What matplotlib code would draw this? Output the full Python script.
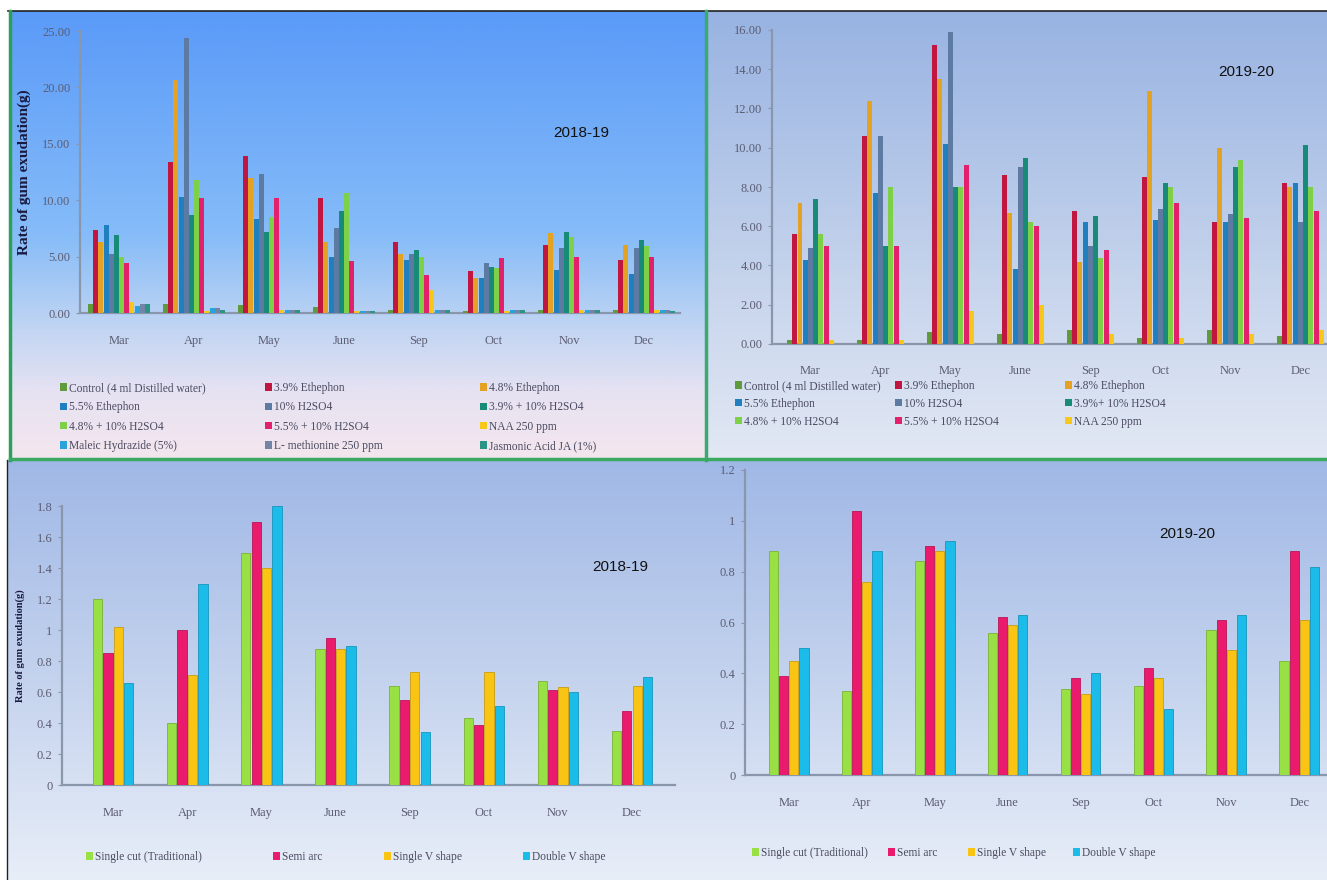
import numpy as np
import matplotlib
matplotlib.use("Agg")
import matplotlib.pyplot as plt
from matplotlib.patches import Patch
from matplotlib.lines import Line2D

W, H = 1327, 880

months = ["Mar", "Apr", "May", "June", "Sep", "Oct", "Nov", "Dec"]

# ---- Top-left panel (2018-19), 12 treatments ----
tl_labels = ["Control (4 ml Distilled water)", "3.9% Ethephon", "4.8% Ethephon",
             "5.5% Ethephon", "10% H2SO4", "3.9% + 10% H2SO4",
             "4.8% + 10% H2SO4", "5.5% + 10% H2SO4", "NAA 250 ppm",
             "Maleic Hydrazide (5%)", "L- methionine 250 ppm", "Jasmonic Acid JA (1%)"]
control_1819   = [0.8, 0.8, 0.7, 0.5, 0.3, 0.2, 0.3, 0.3]
eth39_1819     = [7.4, 13.4, 13.9, 10.2, 6.3, 3.7, 6.0, 4.7]
eth48_1819     = [6.3, 20.7, 12.0, 6.3, 5.2, 3.1, 7.1, 6.0]
eth55_1819     = [7.8, 10.3, 8.3, 5.0, 4.7, 3.1, 3.8, 3.5]
h2so4_1819     = [5.2, 24.4, 12.3, 7.5, 5.2, 4.4, 5.8, 5.8]
mix39_1819     = [6.9, 8.7, 7.2, 9.0, 5.6, 4.1, 7.2, 6.5]
mix48_1819     = [5.0, 11.8, 8.5, 10.6, 5.0, 4.0, 6.7, 5.9]
mix55_1819     = [4.4, 10.2, 10.2, 4.6, 3.4, 4.9, 5.0, 5.0]
naa_1819       = [1.0, 0.2, 0.3, 0.2, 2.0, 0.2, 0.3, 0.3]
mh_1819        = [0.6, 0.4, 0.3, 0.2, 0.3, 0.3, 0.3, 0.3]
lmet_1819      = [0.8, 0.4, 0.3, 0.2, 0.3, 0.3, 0.3, 0.3]
ja_1819        = [0.8, 0.3, 0.3, 0.2, 0.3, 0.3, 0.3, 0.2]

# ---- Top-right panel (2019-20), 9 treatments ----
tr_labels = ["Control (4 ml Distilled water)", "3.9% Ethephon", "4.8% Ethephon",
             "5.5% Ethephon", "10% H2SO4", "3.9%+ 10% H2SO4",
             "4.8% + 10% H2SO4", "5.5% + 10% H2SO4", "NAA 250 ppm"]
control_1920 = [0.2, 0.2, 0.6, 0.5, 0.7, 0.3, 0.7, 0.4]
eth39_1920   = [5.6, 10.6, 15.25, 8.6, 6.8, 8.5, 6.2, 8.2]
eth48_1920   = [7.2, 12.4, 13.5, 6.7, 4.2, 12.9, 10.0, 8.0]
eth55_1920   = [4.3, 7.7, 10.2, 3.8, 6.2, 6.3, 6.2, 8.2]
h2so4_1920   = [4.9, 10.6, 15.9, 9.0, 5.0, 6.9, 6.6, 6.2]
mix39_1920   = [7.4, 5.0, 8.0, 9.5, 6.5, 8.2, 9.0, 10.15]
mix48_1920   = [5.6, 8.0, 8.0, 6.2, 4.4, 8.0, 9.4, 8.0]
mix55_1920   = [5.0, 5.0, 9.1, 6.0, 4.8, 7.2, 6.4, 6.8]
naa_1920     = [0.2, 0.2, 1.7, 2.0, 0.5, 0.3, 0.5, 0.7]

# ---- Bottom panels: tapping methods ----
bt_labels = ["Single cut (Traditional)", "Semi arc", "Single V shape", "Double V shape"]
single_cut_1819 = [1.2, 0.4, 1.5, 0.88, 0.64, 0.43, 0.67, 0.35]
semi_arc_1819   = [0.85, 1.0, 1.7, 0.95, 0.55, 0.39, 0.61, 0.48]
single_v_1819   = [1.02, 0.71, 1.4, 0.88, 0.73, 0.73, 0.63, 0.64]
double_v_1819   = [0.66, 1.3, 1.8, 0.9, 0.34, 0.51, 0.60, 0.70]

single_cut_1920 = [0.88, 0.33, 0.84, 0.56, 0.34, 0.35, 0.57, 0.45]
semi_arc_1920   = [0.39, 1.04, 0.90, 0.62, 0.38, 0.42, 0.61, 0.88]
single_v_1920   = [0.45, 0.76, 0.88, 0.59, 0.32, 0.38, 0.49, 0.61]
double_v_1920   = [0.50, 0.88, 0.92, 0.63, 0.40, 0.26, 0.63, 0.82]

c12 = ["#5f9a3c", "#c0163f", "#e3a224", "#1f7fbf", "#5d7aa3", "#178a78",
       "#7ed048", "#e2206c", "#f5c81a", "#2aa2da", "#7484a6", "#2a9486"]
c4 = ["#98e044", "#ea1a6c", "#fac414", "#1cbcea"]

SERIF = ["Liberation Serif", "DejaVu Serif"]
SANS = ["Liberation Sans", "DejaVu Sans"]

fig = plt.figure(figsize=(W / 100, H / 100), dpi=100)
fig.patch.set_facecolor("white")


def rect_px(x0, y0, x1, y1):
    return [x0 / W, 1 - y1 / H, (x1 - x0) / W, (y1 - y0) / H]


def fx(x):
    return x / W


def fy(y):
    return 1 - y / H


def gradient_bg(x0, y0, x1, y1, stops):
    bg = fig.add_axes(rect_px(x0, y0, x1, y1), zorder=-5)
    n = 256
    t = np.linspace(0, 1, n)
    pos = [s[0] for s in stops]
    cols = np.array([matplotlib.colors.to_rgb(s[1]) for s in stops])
    img = np.zeros((n, 1, 3))
    for k in range(3):
        img[:, 0, k] = np.interp(t, pos, cols[:, k])
    bg.imshow(img, aspect="auto", extent=[0, 1, 1, 0], interpolation="bilinear")
    bg.set_xlim(0, 1)
    bg.set_ylim(1, 0)
    bg.axis("off")
    return bg


def fig_line(xs, ys, color, lw):
    fig.add_artist(Line2D([fx(v) for v in xs], [fy(v) for v in ys],
                          color=color, lw=lw, transform=fig.transFigure))


# backgrounds
gradient_bg(10, 11, 706, 460, [(0, "#5a9af8"), (0.5, "#86bcf8"), (0.72, "#c4d6f2"),
                               (0.85, "#e6e2f2"), (1, "#f4e6ee")])
gradient_bg(706, 11, 1327, 460, [(0, "#98b3e2"), (0.6, "#c6d4ec"), (1, "#e2e8f4")])
gradient_bg(8, 460, 702, 880, [(0, "#a0b8e6"), (0.55, "#c6d4ee"), (1, "#e8eef8")])
gradient_bg(702, 460, 1327, 880, [(0, "#a0b8e6"), (0.55, "#c6d4ee"), (1, "#e8eef8")])

# borders
fig_line([8, 1327], [11, 11], "#222222", 1.2)
fig_line([10, 10], [11, 460], "#2aa05a", 2.5)
fig_line([706, 706], [11, 460], "#3aaa70", 2.5)
fig_line([10, 1327], [459, 459], "#3aaa60", 2.5)
fig_line([7, 7], [460, 880], "#222222", 1.0)

AXC = "#8a96ac"
TICKC = "#5c5c72"


def style_axes(ax, ylim, yticks, yfmt, xlim, pad_x, fs=9):
    ax.set_facecolor("none")
    ax.set_xlim(*xlim)
    ax.set_ylim(*ylim)
    for s in ["top", "right"]:
        ax.spines[s].set_visible(False)
    for s in ["left", "bottom"]:
        ax.spines[s].set_color(AXC)
        ax.spines[s].set_linewidth(1.6)
    ax.set_yticks(yticks)
    ax.set_yticklabels([yfmt(v) for v in yticks], fontfamily=SERIF, fontsize=fs, color=TICKC)
    ax.set_xticks(np.arange(len(months)))
    ax.set_xticklabels(months, fontfamily=SERIF, fontsize=fs, color=TICKC)
    ax.tick_params(axis="x", length=0, pad=pad_x)
    ax.tick_params(axis="y", length=3, color=AXC, pad=4)


def col_legend(handles, labels, x, y, spacing, fs=8):
    leg = fig.legend(handles, labels, loc="upper left", bbox_to_anchor=(fx(x), fy(y)),
                     frameon=False, borderpad=0, borderaxespad=0, handlelength=0.6,
                     handleheight=0.6, handletextpad=0.15, labelspacing=spacing,
                     prop={"family": SERIF, "size": fs})
    for t in leg.get_texts():
        t.set_color("#4a4a60")
    return leg


x = np.arange(len(months))

# ---------------- Top-left ----------------
ax1 = fig.add_axes(rect_px(80, 31, 680, 313))
series_tl = [control_1819, eth39_1819, eth48_1819, eth55_1819, h2so4_1819, mix39_1819,
             mix48_1819, mix55_1819, naa_1819, mh_1819, lmet_1819, ja_1819]
w = 0.069
for i, vals in enumerate(series_tl):
    ax1.bar(x + (i - 5.5) * w, vals, w * 0.95, color=c12[i], label=tl_labels[i], zorder=3)
style_axes(ax1, (0, 25), np.arange(0, 26, 5), lambda v: f"{v:.2f}", (-0.52, 7.48), 16)
ax1.set_ylabel("Rate of gum exudation(g)", fontfamily=SERIF, fontsize=11,
               fontweight="bold", color="#1a1a40", labelpad=8)
ax1.text(0.835, 0.64, "2018-19", transform=ax1.transAxes, fontfamily=SANS, fontsize=11,
         color="#111111", ha="center", va="center")

h12 = [Patch(facecolor=c) for c in c12]
for c, xpos in enumerate([60, 265, 480]):
    idx = [c, c + 3, c + 6, c + 9]
    col_legend([h12[i] for i in idx], [tl_labels[i] for i in idx], xpos, 382, 0.64, fs=8.3)

# ---------------- Top-right ----------------
ax2 = fig.add_axes(rect_px(772, 30, 1327, 344))
series_tr = [control_1920, eth39_1920, eth48_1920, eth55_1920, h2so4_1920, mix39_1920,
             mix48_1920, mix55_1920, naa_1920]
w2 = 0.075
for i, vals in enumerate(series_tr):
    ax2.bar(x + (i - 4) * w2, vals, w2 * 0.95, color=c12[i], label=tr_labels[i], zorder=3)
style_axes(ax2, (0, 16), np.arange(0, 17, 2), lambda v: f"{v:.2f}", (-0.55, 7.38), 15)
ax2.text(0.855, 0.865, "2019-20", transform=ax2.transAxes, fontfamily=SANS, fontsize=11,
         color="#111111", ha="center", va="center")
for c, xpos in enumerate([735, 895, 1065]):
    idx = [c, c + 3, c + 6]
    col_legend([h12[i] for i in idx], [tr_labels[i] for i in idx], xpos, 380, 0.5, fs=8.3)

# ---------------- Bottom-left ----------------
ax3 = fig.add_axes(rect_px(62, 506, 675, 785))
series_bl = [single_cut_1819, semi_arc_1819, single_v_1819, double_v_1819]
w3 = 0.14
for i, vals in enumerate(series_bl):
    ax3.bar(x + (i - 1.5) * w3, vals, w3 * 0.9, color=c4[i], label=bt_labels[i], zorder=3,
            edgecolor=matplotlib.colors.to_hex(np.array(matplotlib.colors.to_rgb(c4[i])) * 0.8),
            linewidth=0.6)
style_axes(ax3, (0, 1.8), np.round(np.arange(0, 1.81, 0.2), 1),
           lambda v: f"{v:g}", (-0.69, 7.58), 16)
ax3.set_ylabel("Rate of gum exudation(g)", fontfamily=SERIF, fontsize=7.5,
               fontweight="bold", color="#1a1a40", labelpad=8)
ax3.text(0.91, 0.78, "2018-19", transform=ax3.transAxes, fontfamily=SANS, fontsize=11,
         color="#111111", ha="center", va="center")
h4 = [Patch(facecolor=c) for c in c4]
for i, xpos in enumerate([86, 273, 384, 523]):
    col_legend([h4[i]], [bt_labels[i]], xpos, 851, 0.5, fs=8.3)

# ---------------- Bottom-right ----------------
ax4 = fig.add_axes(rect_px(745, 470, 1327, 775))
series_br = [single_cut_1920, semi_arc_1920, single_v_1920, double_v_1920]
for i, vals in enumerate(series_br):
    ax4.bar(x + (i - 1.5) * w3, vals, w3 * 0.9, color=c4[i], label=bt_labels[i], zorder=3,
            edgecolor=matplotlib.colors.to_hex(np.array(matplotlib.colors.to_rgb(c4[i])) * 0.8),
            linewidth=0.6)
style_axes(ax4, (0, 1.2), np.round(np.arange(0, 1.21, 0.2), 1),
           lambda v: f"{v:g}", (-0.6, 7.38), 16)
ax4.text(0.76, 0.79, "2019-20", transform=ax4.transAxes, fontfamily=SANS, fontsize=11,
         color="#111111", ha="center", va="center")
for i, xpos in enumerate([752, 888, 968, 1073]):
    col_legend([h4[i]], [bt_labels[i]], xpos, 847, 0.5, fs=8.3)

fig.savefig("out.png", dpi=100, facecolor=fig.get_facecolor())
